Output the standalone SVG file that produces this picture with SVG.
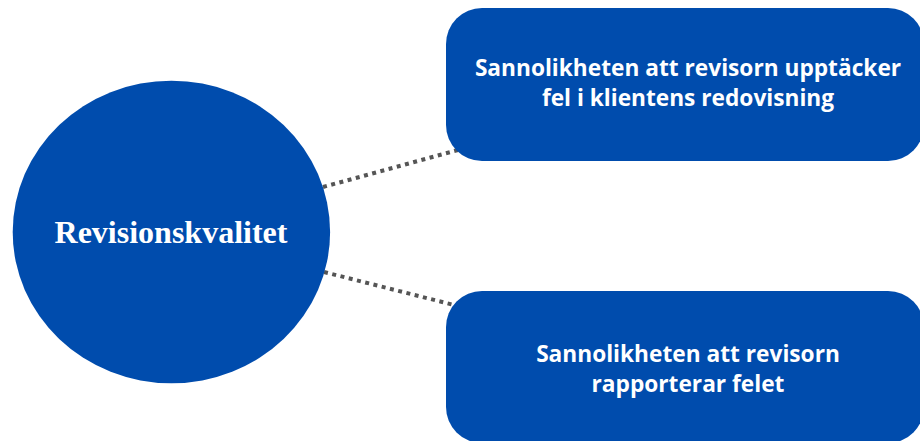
<svg xmlns="http://www.w3.org/2000/svg" width="920" height="441" viewBox="0 0 920 441">
<style>
.node{fill:#004CAD}
.box-text{font-family:"Open Sans",sans-serif;font-weight:bold;font-size:22.7px;fill:#FFFFFF;text-anchor:middle}
.circle-text{font-family:"Liberation Serif",serif;font-weight:bold;font-size:32px;fill:#FFFFFF;text-anchor:middle}
.conn{stroke:#555555;stroke-width:4;stroke-dasharray:4 4.5;fill:none}
</style>
<rect width="920" height="441" fill="#FFFFFF"/>
<g id="connectors">
<line class="conn" x1="323" y1="187" x2="458" y2="150"/>
<line class="conn" x1="324" y1="272" x2="458" y2="306"/>
</g>
<g id="revisionskvalitet">
<ellipse class="node" cx="171.4" cy="232" rx="158.7" ry="151.3"/>
<text class="circle-text" x="171" y="243">Revisionskvalitet</text>
</g>
<g id="upptacker">
<rect class="node" x="446" y="8" width="478" height="153" rx="36"/>
<text class="box-text" x="688" y="76">Sannolikheten att revisorn upptäcker</text>
<text class="box-text" x="688" y="106">fel i klientens redovisning</text>
</g>
<g id="rapporterar">
<rect class="node" x="446" y="291" width="478" height="152" rx="36"/>
<text class="box-text" x="688" y="362">Sannolikheten att revisorn</text>
<text class="box-text" x="688" y="392">rapporterar felet</text>
</g>
</svg>
